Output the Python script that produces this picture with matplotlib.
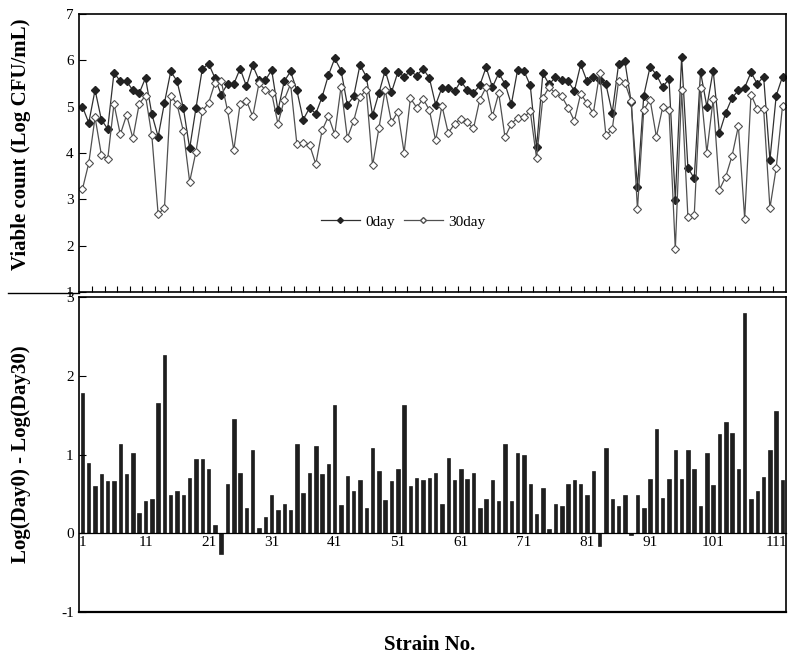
import numpy as np
import matplotlib.pyplot as plt
from matplotlib.lines import Line2D

# Strain numbers 1..112
strains = np.arange(1, 113)

day0 = [5.00, 4.65, 5.36, 4.72, 4.52, 5.73, 5.55, 5.55, 5.35, 5.29,
        5.62, 4.84, 4.35, 5.08, 5.76, 5.55, 4.97, 4.10, 4.97, 5.81,
        5.93, 5.62, 5.26, 5.49, 5.49, 5.82, 5.44, 5.89, 5.57, 5.57,
        5.79, 4.92, 5.55, 5.76, 5.35, 4.72, 4.97, 4.85, 5.21, 5.68,
        6.04, 5.78, 5.04, 5.22, 5.90, 5.65, 4.82, 5.29, 5.78, 5.31,
        5.74, 5.65, 5.76, 5.67, 5.82, 5.62, 5.04, 5.41, 5.41, 5.33,
        5.55, 5.36, 5.30, 5.46, 5.85, 5.42, 5.72, 5.49, 5.05, 5.80,
        5.77, 5.46, 4.12, 5.72, 5.48, 5.64, 5.58, 5.55, 5.34, 5.91,
        5.55, 5.64, 5.58, 5.48, 4.87, 5.91, 5.98, 5.10, 3.26, 5.24,
        5.86, 5.69, 5.42, 5.60, 2.99, 6.07, 3.68, 3.45, 5.75, 5.00,
        5.78, 4.43, 4.87, 5.19, 5.35, 5.41, 5.74, 5.49, 5.65, 3.85,
        5.24, 5.65]

day30 = [3.22, 3.78, 4.77, 3.96, 3.86, 5.06, 4.40, 4.82, 4.32, 5.06,
         5.24, 4.38, 2.68, 2.81, 5.24, 5.05, 4.47, 3.38, 4.03, 4.90,
         5.08, 5.51, 5.55, 4.92, 4.06, 5.06, 5.13, 4.79, 5.51, 5.36,
         5.29, 4.63, 5.15, 5.49, 4.19, 4.21, 4.18, 3.76, 4.49, 4.79,
         4.40, 5.43, 4.32, 4.69, 5.21, 5.36, 3.73, 4.53, 5.36, 4.66,
         4.89, 4.01, 5.18, 4.98, 5.17, 4.93, 4.27, 5.02, 4.43, 4.63,
         4.74, 4.66, 4.53, 5.15, 5.42, 4.79, 5.29, 4.34, 4.63, 4.76,
         4.77, 4.90, 3.89, 5.19, 5.42, 5.29, 5.22, 4.98, 4.69, 5.28,
         5.07, 4.86, 5.72, 4.38, 4.51, 5.55, 5.52, 5.12, 2.79, 4.93,
         5.15, 4.35, 4.99, 4.93, 1.92, 5.36, 2.61, 2.66, 5.41, 4.01,
         5.16, 3.21, 3.49, 3.94, 4.58, 2.58, 5.26, 4.95, 4.95, 2.81,
         3.68, 5.02]

log_diff = [1.78, 0.89, 0.60, 0.75, 0.66, 0.66, 1.13, 0.75, 1.02, 0.25,
            0.405, 0.435, 1.65, 2.27, 0.49, 0.54, 0.48, 0.70, 0.94, 0.94,
            0.81, 0.10, -0.27, 0.62, 1.45, 0.76, 0.32, 1.06, 0.06, 0.21,
            0.49, 0.30, 0.375, 0.30, 1.135, 0.51, 0.76, 1.11, 0.75, 0.88,
            1.63, 0.36, 0.73, 0.54, 0.67, 0.32, 1.08, 0.79, 0.42, 0.66,
            0.82, 1.63, 0.60, 0.70, 0.675, 0.70, 0.76, 0.375, 0.96, 0.675,
            0.81, 0.69, 0.76, 0.32, 0.43, 0.67, 0.41, 1.14, 0.41, 1.02,
            0.99, 0.62, 0.24, 0.57, 0.05, 0.375, 0.35, 0.62, 0.67, 0.63,
            0.48, 0.79, -0.17, 1.08, 0.43, 0.35, 0.49, -0.03, 0.48, 0.32,
            0.69, 1.33, 0.45, 0.69, 1.06, 0.69, 1.06, 0.81, 0.35, 1.02,
            0.61, 1.26, 1.42, 1.27, 0.82, 2.80, 0.435, 0.54, 0.72, 1.06,
            1.55, 0.67]

xtick_labels = ['1', '11', '21', '31', '41', '51', '61', '71', '81', '91', '101', '111']

plt.rcParams['font.family'] = ['Liberation Serif', 'DejaVu Serif']
plt.rcParams['font.size'] = 11
plt.rcParams['axes.unicode_minus'] = False

fig = plt.figure(figsize=(7.89, 6.59), dpi=100)

# lower panel: difference bars
ax2 = fig.add_axes([0.1005, 0.0718, 0.8953, 0.477])
ax2.bar(strains, log_diff, width=0.55, color='#1e1e1e', edgecolor='#000000', linewidth=0.4)
ax2.set_xlim(0.5, 112.5)
ax2.set_ylim(-1, 3)
ax2.set_yticks([-1, 0, 1, 2, 3])
ax2.tick_params(axis='y', direction='in', length=5, width=0.8, pad=4, labelsize=11)
ax2.spines['bottom'].set_position(('data', 0))
ax2.set_xticks([int(t) for t in xtick_labels])
ax2.set_xticklabels(xtick_labels)
ax2.tick_params(axis='x', length=0, pad=2, labelsize=11)
ax2.plot([0, 1], [0, 0], transform=ax2.transAxes, color='black', lw=1.6, clip_on=False)
for s in ['left', 'right', 'top']:
    ax2.spines[s].set_linewidth(1.2)
ax2.spines['bottom'].set_linewidth(0.9)
ax2.set_ylabel('Log(Day0) - Log(Day30)', fontsize=15, fontweight='bold')
ax2.yaxis.set_label_coords(-0.068, 0.5)
fig.text(0.545, 0.022, 'Strain No.', ha='center', va='center', fontsize=15, fontweight='bold')

# upper panel: viable counts
ax1 = fig.add_axes([0.1005, 0.5569, 0.8953, 0.4219])
ax1.plot(strains, day0, color='#303030', lw=0.9, marker='D', markersize=3.8,
         markerfacecolor='#222222', markeredgecolor='#222222', label='0day')
ax1.plot(strains, day30, color='#505050', lw=0.9, marker='D', markersize=3.8,
         markerfacecolor='white', markeredgecolor='#505050', markeredgewidth=0.8, label='30day')
ax1.set_xlim(0.5, 112.5)
ax1.set_ylim(1, 7)
ax1.set_yticks([1, 2, 3, 4, 5, 6, 7])
ax1.set_xticks(np.arange(2.5, 112, 2))
ax1.set_xticklabels([])
ax1.tick_params(axis='x', direction='in', length=4, width=0.8)
ax1.tick_params(axis='y', direction='in', length=5, width=0.8, pad=4, labelsize=11)
for s in ax1.spines.values():
    s.set_linewidth(1.2)
ax1.set_ylabel('Viable count (Log CFU/mL)', fontsize=15, fontweight='bold')
ax1.yaxis.set_label_coords(-0.068, 0.53)
handles = [Line2D([], [], color='#303030', lw=0.9, marker='D', markersize=3,
                  markerfacecolor='#222222', markeredgecolor='#222222'),
           Line2D([], [], color='#505050', lw=0.9, marker='D', markersize=3,
                  markerfacecolor='white', markeredgecolor='#505050')]
ax1.legend(handles, ['0day', '30day'], loc='center', bbox_to_anchor=(0.458, 0.252),
           ncol=2, frameon=False, fontsize=11, handlelength=2.6, columnspacing=0.6,
           handletextpad=0.3)

# short separator line at left between the panels
fig.add_artist(Line2D([0.01, 0.1005], [1 - 293 / 659, 1 - 293 / 659], color='black', lw=1.0))

fig.savefig('out.png', dpi=100)
